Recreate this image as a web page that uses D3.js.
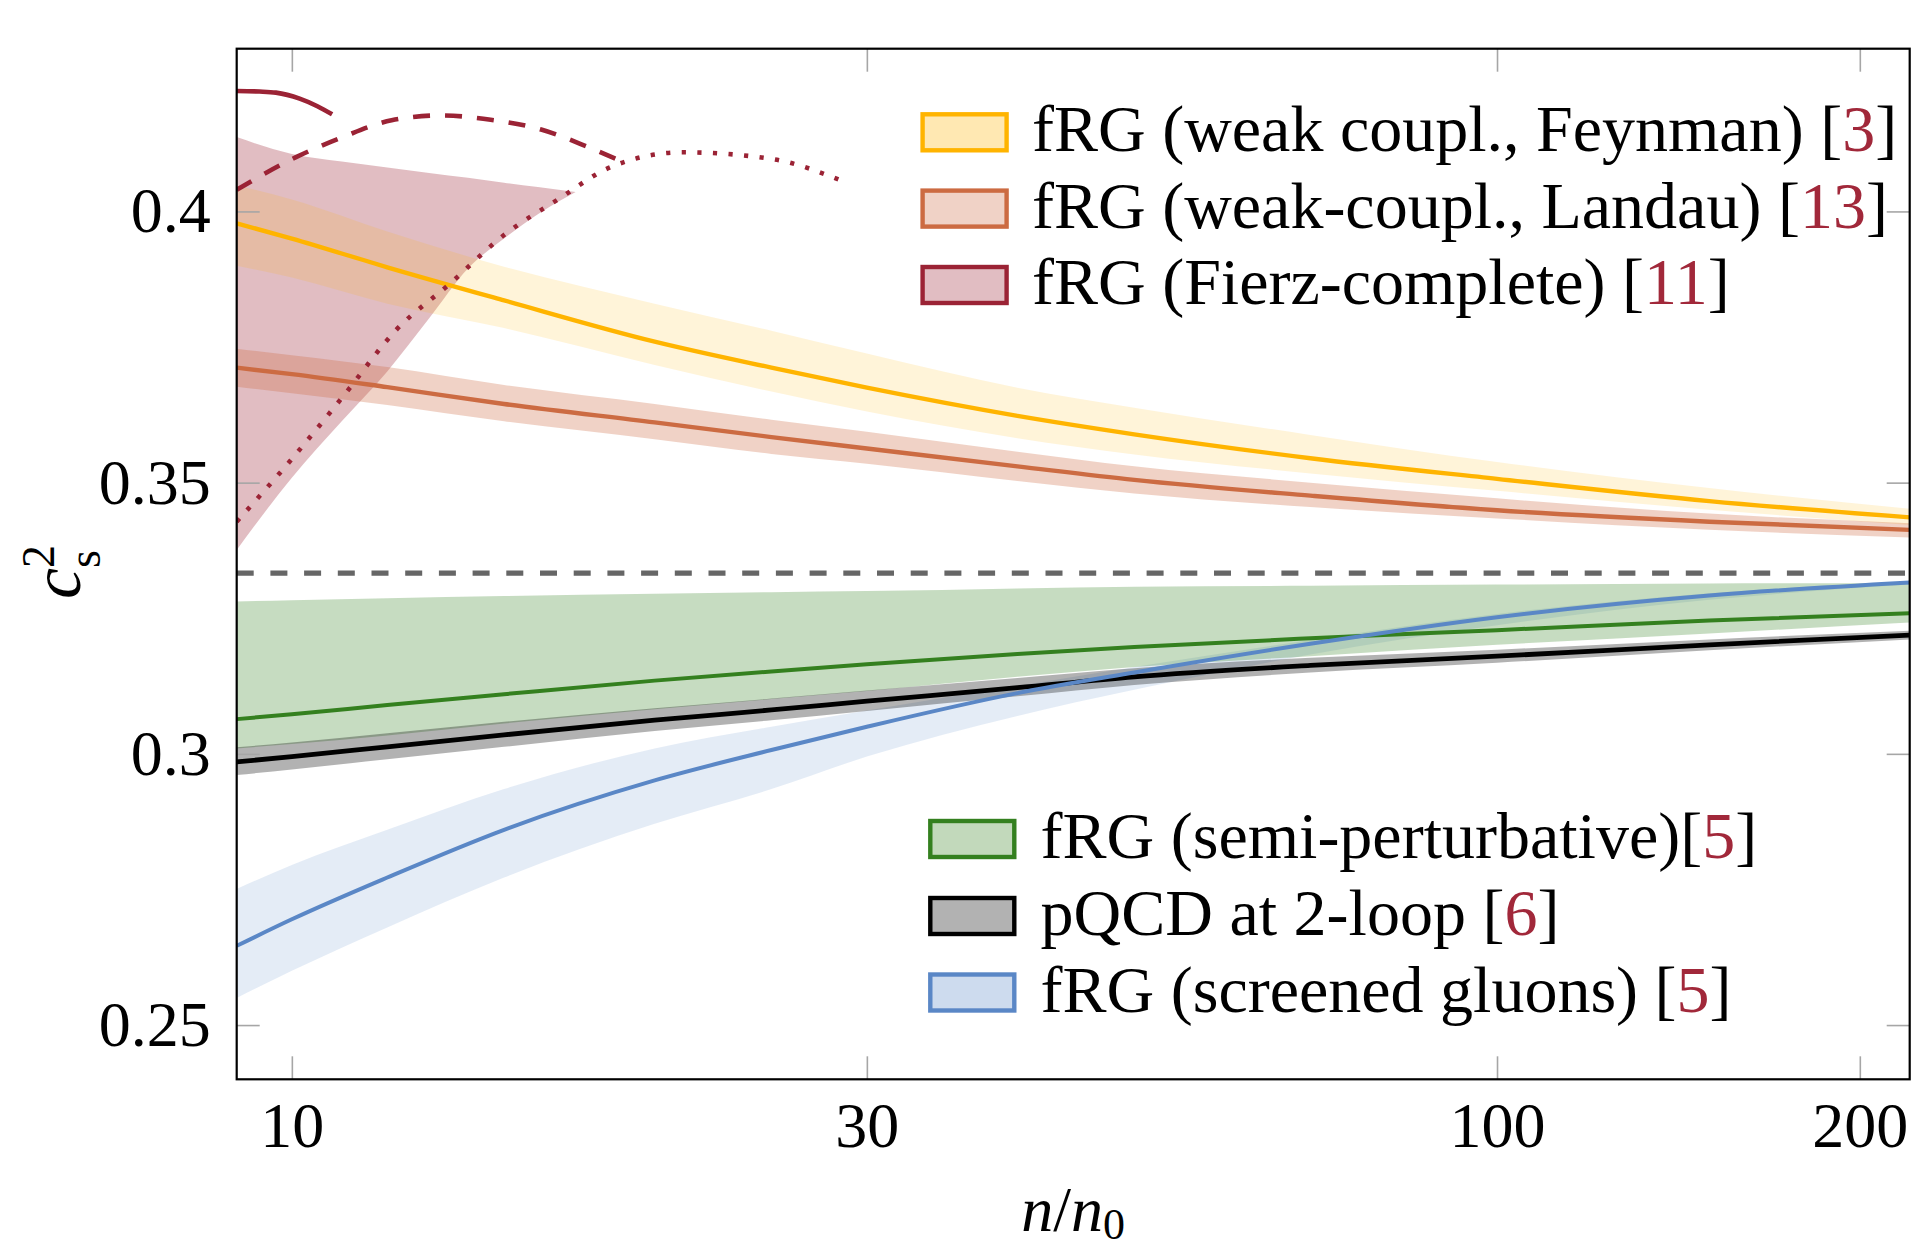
<!DOCTYPE html>
<html>
<head>
<meta charset="utf-8">
<script src="https://cdn.jsdelivr.net/npm/d3@7"></script>
<style>
  body { margin: 0; background: #fff; }
  svg text { font-family: "Liberation Serif", "DejaVu Serif", serif; }
</style>
</head>
<body>
<div id="chart"></div>
<script>
// density grid n/n0 shared by the smooth bands
const nGrid = [9, 10, 12, 15, 20, 25, 30, 40, 50, 70, 100, 150, 220];

// fRG weak coupling, Feynman gauge
const feynmanMid = [0.3978, 0.3950, 0.3897, 0.3836, 0.3760, 0.3712, 0.3675, 0.3623, 0.3589, 0.3545, 0.3507, 0.3466, 0.3436];
const feynmanHi  = [0.4048, 0.4022, 0.3963, 0.3898, 0.3830, 0.3780, 0.3738, 0.3675, 0.3638, 0.3588, 0.3538, 0.3490, 0.3452];
const feynmanLo  = [0.3900, 0.3878, 0.3830, 0.3785, 0.3717, 0.3668, 0.3631, 0.3582, 0.3552, 0.3517, 0.3485, 0.3450, 0.3422];

// fRG weak coupling, Landau gauge
const landauMid = [0.3712, 0.3700, 0.3676, 0.3645, 0.3611, 0.3584, 0.3563, 0.3530, 0.3505, 0.3476, 0.3449, 0.3428, 0.3413];
const landauHi  = [0.3747, 0.3735, 0.3713, 0.3680, 0.3645, 0.3616, 0.3594, 0.3557, 0.3530, 0.3500, 0.3471, 0.3443, 0.3425];
const landauLo  = [0.3677, 0.3665, 0.3643, 0.3613, 0.3580, 0.3553, 0.3535, 0.3503, 0.3480, 0.3455, 0.3434, 0.3413, 0.3399];

// fRG semi-perturbative
const semiMid = [0.3064, 0.3073, 0.3090, 0.3110, 0.3135, 0.3152, 0.3165, 0.3184, 0.3197, 0.3213, 0.3228, 0.3246, 0.3259];
const semiHi  = [0.3281, 0.3283, 0.3287, 0.3291, 0.3295, 0.3298, 0.3300, 0.3305, 0.3308, 0.3310, 0.3312, 0.3314, 0.3315];
const semiLo  = [0.3010, 0.3018, 0.3034, 0.3056, 0.3082, 0.3101, 0.3116, 0.3142, 0.3160, 0.3180, 0.3201, 0.3222, 0.3242];

// pQCD at 2 loops
const pqcdMid = [0.2985, 0.2995, 0.3013, 0.3035, 0.3062, 0.3081, 0.3097, 0.3122, 0.3142, 0.3163, 0.3180, 0.3201, 0.3219];
const pqcdHi  = [0.3012, 0.3021, 0.3038, 0.3059, 0.3084, 0.3102, 0.3117, 0.3140, 0.3158, 0.3177, 0.3192, 0.3211, 0.3227];
const pqcdLo  = [0.2961, 0.2971, 0.2990, 0.3013, 0.3042, 0.3062, 0.3079, 0.3106, 0.3127, 0.3150, 0.3168, 0.3191, 0.3211];

// fRG screened gluons
const screenedMid = [0.2646, 0.2695, 0.2772, 0.2860, 0.2951, 0.3007, 0.3050, 0.3112, 0.3150, 0.3203, 0.3252, 0.3292, 0.3316];
const screenedHi  = [0.2751, 0.2795, 0.2860, 0.2935, 0.3010, 0.3050, 0.3080, 0.3125, 0.3160, 0.3210, 0.3258, 0.3296, 0.3318];
const screenedLo  = [0.2550, 0.2600, 0.2680, 0.2772, 0.2871, 0.2935, 0.2995, 0.3070, 0.3118, 0.3183, 0.3237, 0.3284, 0.3312];

// fRG Fierz-complete: band and three curves
const fierzBandN  = [9, 10, 11, 12, 13, 14, 15, 16, 17.2];
const fierzBandHi = [0.4137, 0.4106, 0.4092, 0.4081, 0.4071, 0.4062, 0.4053, 0.4045, 0.4036];
const fierzBandLo = [0.3376, 0.3509, 0.3613, 0.3705, 0.3803, 0.3895, 0.3950, 0.3995, 0.4036];
const fierzSolidN = [9, 9.4, 9.7, 10.15, 10.5, 10.8];
const fierzSolid  = [0.4222, 0.4221, 0.4219, 0.4208, 0.4194, 0.4179];
const fierzDashN  = [9, 10.08, 11.02, 12.1, 13.29, 14.62, 16.1, 17.6, 18.71];
const fierzDash   = [0.4040, 0.4100, 0.4137, 0.4168, 0.4177, 0.4169, 0.4151, 0.4119, 0.4094];
const fierzDotN   = [9, 9.95, 11.02, 12.2, 13.53, 14.99, 16.6, 18.4, 21.1, 24.98, 28.85];
const fierzDot    = [0.3428, 0.3538, 0.3658, 0.3781, 0.3867, 0.3956, 0.4021, 0.4082, 0.4109, 0.4097, 0.4053];

const conformal = 1 / 3;

const xTicks = [10, 30, 100, 200];
const yTicks = [0.25, 0.3, 0.35, 0.4];

const legendTop = ['fRG (weak coupl., Feynman) ', 'fRG (weak-coupl., Landau) ', 'fRG (Fierz-complete) '];
const refsTop = ['3', '13', '11'];
const legendBottom = ['fRG (semi-perturbative)', 'pQCD at 2-loop ', 'fRG (screened gluons) '];
const refsBottom = ['5', '6', '5'];

// colours
const cYellow = '#ffb400', cOrange = '#cc6b42', cRed = '#9b2335',
      cGreen = '#34801f', cBlack = '#000000', cBlue = '#5a87c6', cRef = '#a1283a';

// ---- layout
const width = 1911, height = 1251;
const margin = {top: 48.7, right: 1.3, bottom: 171.7, left: 236.7};
const innerW = width - margin.left - margin.right;
const innerH = height - margin.top - margin.bottom;
const fs = 64;      // tick labels
const fsLeg = 66;   // legend entries
const lw = 4.6;     // curve width

const svg = d3.select('#chart').append('svg')
  .attr('width', width)
  .attr('height', height);

const plot = svg.append('g')
  .attr('transform', `translate(${margin.left},${margin.top})`);

const x = d3.scaleLog().domain([9, 220]).range([0, innerW]);
const y = d3.scaleLinear().domain([0.24, 0.43]).range([innerH, 0]);

svg.append('defs').append('clipPath').attr('id', 'clip')
  .append('rect').attr('width', innerW).attr('height', innerH);

const body = plot.append('g').attr('clip-path', 'url(#clip)');

const zipBand = (ns, lo, hi) => ns.map((n, i) => ({n, lo: lo[i], hi: hi[i]}));
const zipLine = (ns, v) => ns.map((n, i) => ({n, v: v[i]}));

const area = d3.area()
  .x(d => x(d.n)).y0(d => y(d.lo)).y1(d => y(d.hi))
  .curve(d3.curveMonotoneX);
const line = d3.line()
  .x(d => x(d.n)).y(d => y(d.v))
  .curve(d3.curveMonotoneX);

function band(ns, lo, hi, color, op) {
  body.append('path')
    .attr('d', area(zipBand(ns, lo, hi)))
    .attr('fill', color)
    .attr('fill-opacity', op);
}
function curve(ns, v, color, w, dash) {
  body.append('path')
    .attr('d', line(zipLine(ns, v)))
    .attr('fill', 'none')
    .attr('stroke', color)
    .attr('stroke-width', w)
    .attr('stroke-dasharray', dash || null);
}

// bands
band(fierzBandN, fierzBandLo, fierzBandHi, cRed, 0.3);
band(nGrid, feynmanLo, feynmanHi, cYellow, 0.15);
band(nGrid, landauLo, landauHi, cOrange, 0.3);
band(nGrid, screenedLo, screenedHi, cBlue, 0.16);
band(nGrid, semiLo, semiHi, cGreen, 0.28);
band(nGrid, pqcdLo, pqcdHi, cBlack, 0.3);

// conformal limit
body.append('line')
  .attr('x1', 0).attr('x2', innerW)
  .attr('y1', y(conformal)).attr('y2', y(conformal))
  .attr('stroke', '#666666')
  .attr('stroke-width', 5.2)
  .attr('stroke-dasharray', '17,16.7');

// central curves
curve(nGrid, semiMid, cGreen, lw - 0.6);
curve(nGrid, pqcdMid, cBlack, lw + 0.2);
curve(nGrid, screenedMid, cBlue, lw - 0.6);
curve(nGrid, feynmanMid, cYellow, lw - 0.2);
curve(nGrid, landauMid, cOrange, lw - 0.2);
curve(fierzSolidN, fierzSolid, cRed, lw);
curve(fierzDashN, fierzDash, cRed, lw, '17,15');
curve(fierzDotN, fierzDot, cRed, lw, '4.2,11.4');

// ---- axes with inner ticks on all four sides
function styleAxis(g) {
  g.select('.domain').remove();
  g.selectAll('.tick line').attr('stroke', '#a6a6a6').attr('stroke-width', 1.6);
  g.selectAll('.tick text').attr('fill', '#000').style('font-size', fs + 'px');
  g.attr('font-family', null).attr('font-size', null);
}

plot.append('g')
  .attr('transform', `translate(0,${innerH})`)
  .call(d3.axisBottom(x).tickValues(xTicks).tickFormat(d3.format('d')).tickSize(-23).tickPadding(22))
  .call(styleAxis);
plot.append('g')
  .call(d3.axisTop(x).tickValues(xTicks).tickFormat('').tickSize(-23))
  .call(styleAxis);
plot.append('g')
  .call(d3.axisLeft(y).tickValues(yTicks).tickFormat(d => String(d)).tickSize(-23).tickPadding(26))
  .call(styleAxis);
plot.append('g')
  .attr('transform', `translate(${innerW},0)`)
  .call(d3.axisRight(y).tickValues(yTicks).tickFormat('').tickSize(-23))
  .call(styleAxis);

// frame
plot.append('rect')
  .attr('width', innerW).attr('height', innerH)
  .attr('fill', 'none').attr('stroke', '#000').attr('stroke-width', 2.2);

// axis titles
const xLab = svg.append('text')
  .attr('x', margin.left + innerW / 2)
  .attr('y', 1231)
  .attr('text-anchor', 'middle')
  .style('font-size', fs + 'px');
xLab.append('tspan').style('font-style', 'italic').text('n');
xLab.append('tspan').text('/');
xLab.append('tspan').style('font-style', 'italic').text('n');
xLab.append('tspan').attr('dy', 8).style('font-size', '44px').text('0');

const yLab = svg.append('text')
  .attr('transform', 'translate(80,572) rotate(-90)')
  .attr('text-anchor', 'middle')
  .style('font-size', '70px');
yLab.append('tspan').style('font-style', 'italic').text('c');
yLab.append('tspan').attr('dy', -26).style('font-size', '46px').text('2');
yLab.append('tspan').attr('dx', -23).attr('dy', 46).style('font-size', '46px').text('s');

// ---- legends
function legend(labels, refs, colors, x0, yCenters, textX) {
  labels.forEach((lab, i) => {
    const cy = yCenters[i];
    svg.append('rect')
      .attr('x', x0).attr('y', cy - 18)
      .attr('width', 84).attr('height', 36)
      .attr('fill', colors[i]).attr('fill-opacity', 0.3)
      .attr('stroke', colors[i]).attr('stroke-width', 4.4);
    const t = svg.append('text')
      .attr('x', textX).attr('y', cy + 19)
      .style('font-size', fsLeg + 'px');
    t.append('tspan').text(lab + '[');
    t.append('tspan').attr('fill', cRef).text(refs[i]);
    t.append('tspan').text(']');
  });
}

legend(legendTop, refsTop, [cYellow, cOrange, cRed], 922.6, [132.3, 208.6, 285], 1032);
legend(legendBottom, refsBottom, [cGreen, cBlack, cBlue], 930.3, [839, 916, 992.5], 1040.6);
</script>
</body>
</html>
